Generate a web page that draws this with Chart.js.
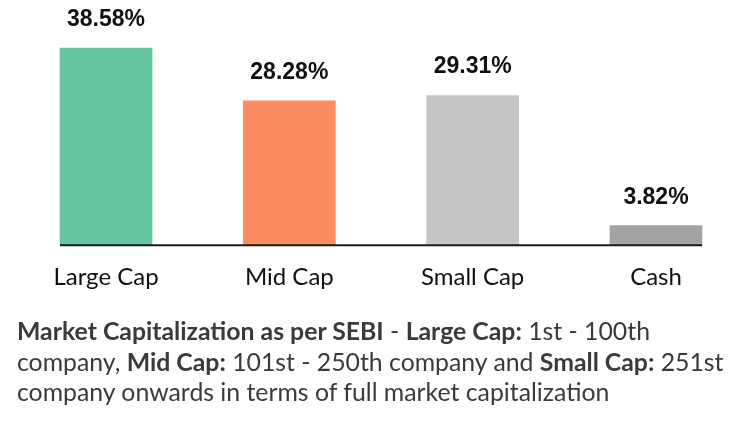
<!DOCTYPE html>
<html>
<head>
<meta charset="utf-8">
<script src="https://cdn.jsdelivr.net/npm/chart.js@4.4.1/dist/chart.umd.min.js"></script>
<style>
  body { margin: 0; background: #fff; }
  #wrap { position: relative; width: 740px; height: 322px; }
  #note {
    position: absolute; left: 17px; top: 316px;
    font-family: Lato, sans-serif; font-size: 24.8px; line-height: 30.5px;
    color: #3a3a3a; white-space: nowrap;
  }
  #note b { font-weight: 700; }
</style>
</head>
<body>
<div id="wrap"><canvas id="capChart"></canvas></div>
<div id="note">
  <b>Market Capitalization as per SEBI</b> - <b>Large Cap:</b> 1st - 100th<br>
  company, <b>Mid Cap:</b> 101st - 250th company and <b>Small Cap:</b> 251st<br>
  company onwards in terms of full market capitalization
</div>
<script>
const categories = ['Large Cap', 'Mid Cap', 'Small Cap', 'Cash'];
const allocation = [38.58, 28.28, 29.31, 3.82];
const barColors = ['#66c5a0', '#fc8d62', '#c6c6c6', '#a3a3a3'];

// value labels above each bar
const valueLabels = {
  id: 'valueLabels',
  afterDatasetsDraw(chart) {
    const ctx = chart.ctx;
    const meta = chart.getDatasetMeta(0);
    ctx.save();
    ctx.font = 'bold 23px "Liberation Sans", Arial, sans-serif';
    ctx.fillStyle = '#111';
    ctx.textAlign = 'center';
    ctx.textBaseline = 'bottom';
    meta.data.forEach((bar, i) => {
      ctx.fillText(allocation[i].toFixed(2) + '%', bar.x, bar.y - 17);
    });
    ctx.restore();
  }
};

// baseline only under the bars
const baseLine = {
  id: 'baseLine',
  afterDatasetsDraw(chart) {
    const ctx = chart.ctx;
    const bars = chart.getDatasetMeta(0).data;
    const first = bars[0], last = bars[bars.length - 1];
    const y = chart.scales.y.getPixelForValue(0);
    ctx.save();
    ctx.strokeStyle = '#1a1a1a';
    ctx.lineWidth = 2;
    ctx.beginPath();
    ctx.moveTo(first.x - first.width / 2, y);
    ctx.lineTo(last.x + last.width / 2, y);
    ctx.stroke();
    ctx.restore();
  }
};

new Chart(document.getElementById('capChart'), {
  type: 'bar',
  data: {
    labels: categories,
    datasets: [{
      data: allocation,
      backgroundColor: barColors,
      barThickness: 92,
      clip: false
    }]
  },
  options: {
    responsive: true,
    maintainAspectRatio: false,
    animation: false,
    layout: { padding: { left: 106, right: 84, top: 0, bottom: 12 } },
    plugins: { legend: { display: false }, tooltip: { enabled: false } },
    scales: {
      x: {
        offset: false,
        grid: { display: false, drawTicks: false },
        border: { display: false },
        ticks: {
          color: '#111',
          padding: 18,
          maxRotation: 0,
          font: { family: 'Lato', size: 24 }
        }
      },
      y: {
        display: false,
        min: 0,
        max: 48
      }
    }
  },
  plugins: [valueLabels, baseLine]
});
</script>
</body>
</html>
